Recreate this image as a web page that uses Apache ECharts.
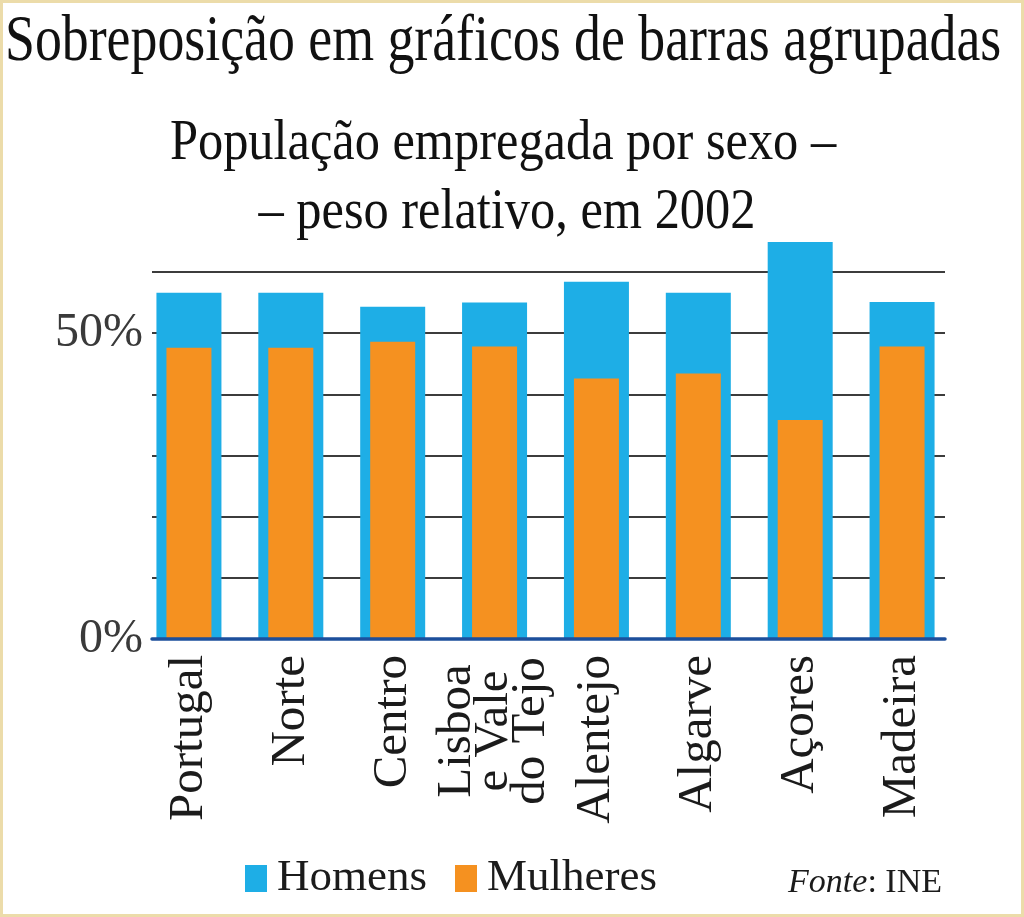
<!DOCTYPE html>
<html>
<head>
<meta charset="utf-8">
<script src="https://cdn.jsdelivr.net/npm/echarts@6/dist/echarts.min.js"></script>
<style>
html,body{margin:0;padding:0;background:#fff;}
#chart{width:1024px;height:917px;}
</style>
</head>
<body>
<div id="chart"></div>
<script>
// ---- data ----
const categories = ['Portugal', 'Norte', 'Centro', 'Lisboa\ne Vale\ndo Tejo', 'Alentejo', 'Algarve', 'Açores', 'Madeira'];
const homens   = [56.6, 56.6, 54.3, 55.0, 58.4, 56.6, 64.9, 55.1];
const mulheres = [47.6, 47.6, 48.6, 47.8, 42.6, 43.4, 35.8, 47.8];
const yLabelValues = [0, 50];
const yLabelTexts  = ['0%', '50%'];
const seriesNames = ['Homens', 'Mulheres'];
const titleText = 'Sobreposição em gráficos de barras agrupadas';
const subtitleLines = ['População empregada por sexo –', '– peso relativo, em 2002'];

const FONT = '"Liberation Serif", "Times New Roman", serif';
const BLUE = '#1eaee6';
const ORANGE = '#f59120';
const TXT = '#1b1b1b';

const chart = echarts.init(document.getElementById('chart'), null, {renderer: 'canvas'});

const y0 = 639, y60 = 272;
const pxPerUnit = (y0 - y60) / 60;

const hiddenCat = {
  type: 'category', gridIndex: 1, data: categories, show: false,
  axisLine: {show: false}, axisTick: {show: false}, axisLabel: {show: false}
};

const option = {
  backgroundColor: '#ffffff',
  animation: false,
  grid: [
    {left: 152, right: 1024 - 945, top: y60, bottom: 917 - y0},
    {left: 138, right: 1024 - 953, top: y0 - 70 * pxPerUnit, bottom: 917 - y0}
  ],
  xAxis: [
    {
      type: 'category', gridIndex: 0, data: categories, z: 5,
      axisLine: {show: true, lineStyle: {color: '#1c4f9c', width: 3.5}},
      axisTick: {show: false}, axisLabel: {show: false}, splitLine: {show: false}
    },
    {
      type: 'category', gridIndex: 1, data: categories,
      axisLine: {show: false}, axisTick: {show: false},
      axisLabel: {
        rotate: 90, margin: 16, interval: 0,
        fontFamily: FONT, fontSize: 49, color: TXT, lineHeight: 37,
        formatter: function (v) {
          if (v.indexOf('\n') < 0) return v;
          return v.split('\n').map(function (s) { return '{c|' + s + '}'; }).join('\n');
        },
        rich: {c: {width: 152, align: 'center', fontFamily: FONT, fontSize: 49, color: TXT, lineHeight: 37}}
      }
    },
    hiddenCat
  ],
  yAxis: [
    {
      type: 'value', gridIndex: 0, min: 0, max: 60, interval: 10,
      axisLine: {show: false}, axisTick: {show: false},
      splitLine: {show: true, lineStyle: {color: '#3c3c3c', width: 2}},
      axisLabel: {
        margin: 9, fontFamily: FONT, fontSize: 48, color: '#3a3a3a',
        formatter: function (v) {
          const i = yLabelValues.indexOf(v);
          return i >= 0 ? yLabelTexts[i] : '';
        }
      }
    },
    {
      type: 'value', gridIndex: 1, min: 0, max: 70, show: false,
      splitLine: {show: false}
    }
  ],
  legend: {
    data: seriesNames,
    left: 240, top: 851,
    icon: 'rect', itemWidth: 22, itemHeight: 27, itemGap: 28,
    textStyle: {fontFamily: FONT, fontSize: 45, color: TXT, padding: [0, 0, 0, 5]}
  },
  series: [
    {
      name: seriesNames[0], type: 'bar', xAxisIndex: 1, yAxisIndex: 1,
      data: homens, barWidth: 65,
      itemStyle: {color: BLUE}, z: 2
    },
    {
      name: seriesNames[1], type: 'bar', xAxisIndex: 2, yAxisIndex: 1,
      data: mulheres, barWidth: 45,
      itemStyle: {color: ORANGE}, z: 3
    }
  ],
  graphic: [
    {
      type: 'rect', silent: true, z: 100,
      shape: {x: 1.5, y: 1.5, width: 1021, height: 914},
      style: {fill: 'none', stroke: '#ecdcaa', lineWidth: 3}
    },
    {
      type: 'text', x: 5, y: 76, scaleX: 0.815,
      style: {text: titleText, font: '66px ' + FONT, fill: '#111', textAlign: 'left', textVerticalAlign: 'bottom'}
    },
    {
      type: 'text', x: 503, y: 172, scaleX: 0.9,
      style: {text: subtitleLines[0], font: '56px ' + FONT, fill: '#111', textAlign: 'center', textVerticalAlign: 'bottom'}
    },
    {
      type: 'text', x: 507, y: 241, scaleX: 0.9,
      style: {text: subtitleLines[1], font: '56px ' + FONT, fill: '#111', textAlign: 'center', textVerticalAlign: 'bottom'}
    },
    {
      type: 'text', x: 942, y: 900,
      style: {
        text: '{i|Fonte}: INE', font: '34px ' + FONT, fill: TXT,
        textAlign: 'right', textVerticalAlign: 'bottom',
        rich: {i: {fontStyle: 'italic', fontFamily: FONT, fontSize: 34, fill: TXT}}
      }
    }
  ]
};
chart.setOption(option);
</script>
</body>
</html>
